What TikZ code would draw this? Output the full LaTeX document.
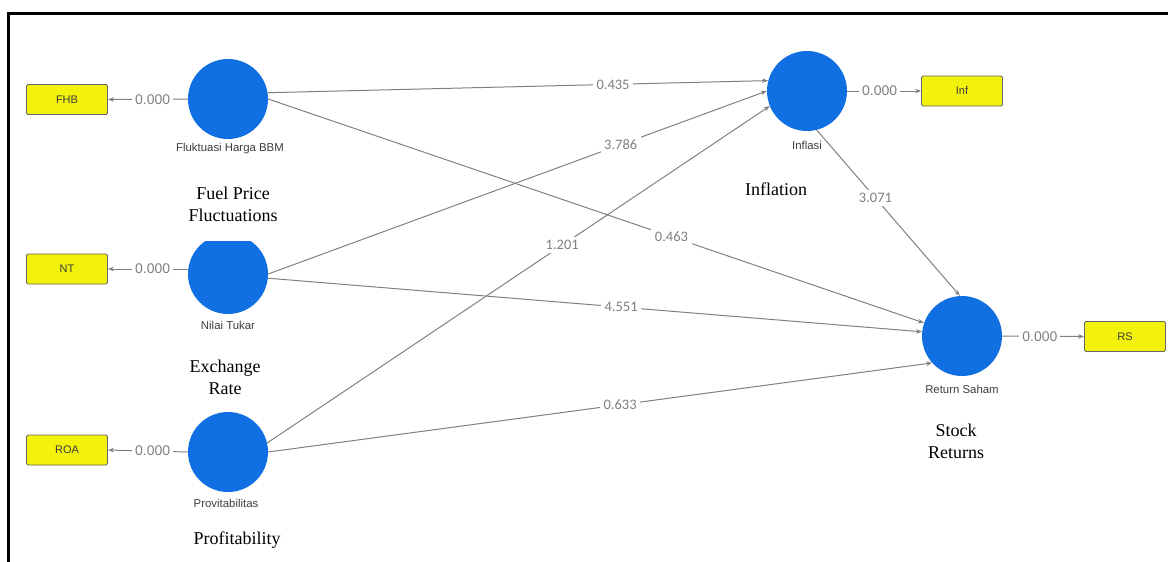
\documentclass[tikz,border=0pt]{standalone}
\usepackage{fontspec}
\setmainfont{Liberation Serif}
\newfontfamily\arialf{Liberation Sans}
\newfontfamily\calib{Carlito}
\usetikzlibrary{arrows.meta}
\definecolor{cblue}{RGB}{17,112,225}
\definecolor{cyel}{RGB}{242,242,12}
\definecolor{lgray}{RGB}{128,128,128}
\definecolor{tgray}{RGB}{60,60,60}
\begin{document}
\begin{tikzpicture}[x=1pt,y=-1pt,
 lv/.style={circle,fill=cblue,minimum size=80pt,inner sep=0pt},
 ind/.style={rectangle,rounded corners=1.5pt,draw=black!60,line width=0.8pt,fill=cyel,minimum width=81pt,minimum height=30pt,inner sep=0pt,font=\arialf\fontsize{11}{13}\selectfont,text=tgray},
 lvcap/.style={font=\arialf\fontsize{11.4}{13}\selectfont,text=tgray,inner sep=0pt},
 eng/.style={font=\fontsize{18}{22}\selectfont,align=center,inner sep=0pt},
 conn/.style={draw=lgray,line width=1pt,-{Stealth[length=6pt,width=4.5pt]}},
 wt/.style={fill=white,text=lgray,font=\calib\fontsize{14.5}{16}\selectfont,inner sep=3.5pt},
 mw/.style={fill=white,text=lgray,font=\arialf\fontsize{14}{16}\selectfont,inner sep=3pt}
]
\useasboundingbox (0,0) rectangle (1168,562);
\draw[line width=2.5pt,line join=miter] (8.5,562) -- (8.5,13.5) -- (1168,13.5);

% latent variables
\node[lv] (fhb) at (228,99) {};
\begin{scope}
\clip (0,241) rectangle (1168,562);
\node[lv] (nt) at (228,274) {};
\end{scope}
\node[lv] (pv) at (228,452) {};
\node[lv] (inf) at (807,91) {};
\node[lv] (rs) at (962,336) {};

% indicators
\node[ind] (FHB) at (67,99.5) {FHB};
\node[ind] (NT) at (67,269) {NT};
\node[ind] (ROA) at (67,450) {ROA};
\node[ind] (INF) at (962,91) {Inf};
\node[ind] (RS) at (1125,336.5) {RS};

% captions
\node[lvcap] (cfhb) at (230,149) {Fluktuasi Harga BBM};
\node[lvcap] (cnt) at (228,325) {Nilai Tukar};
\node[lvcap] (cpv) at (226,503) {Provitabilitas};
\node[lvcap] (cinf) at (807,145) {Inflasi};
\node[lvcap] (crs) at (962,389) {Return Saham};

% english labels
\node[eng] (efhb) at (233,204) {Fuel Price\\Fluctuations};
\node[eng] (ent) at (225,377) {Exchange\\Rate};
\node[eng] (epv) at (237,540) {Profitability};
\node[eng] (einf) at (776,189) {Inflation};
\node[eng] (ers) at (956,441) {Stock\\Returns};

% measurement
\draw[conn] (fhb.west) -- node[mw,pos=0.44]{0.000} (FHB.east);
\draw[conn] (nt.west|-NT.east) -- node[mw,pos=0.44]{0.000} (NT.east);
\draw[conn] (pv.west) -- node[mw,pos=0.44]{0.000} (ROA.east);
\draw[conn] (inf.east) -- node[mw,pos=0.44]{0.000} (INF.west);
\draw[conn] (rs.east) -- node[mw,pos=0.46]{0.000} (RS.west);

% structural
\draw[conn] (fhb.9) -- node[wt,pos=0.69]{0.435} (inf.165);
\draw[conn] (fhb.0) -- node[wt,pos=0.615]{0.463} (rs.161);
\draw[conn] (nt.0) -- node[wt,pos=0.707]{3.786} (inf.180);
\draw[conn] (nt.-6) -- node[wt,pos=0.54]{4.551} (rs.174);
\draw[conn] (pv.13) -- node[wt,pos=0.587]{1.201} (inf.202);
\draw[conn] (pv.0) -- node[wt,pos=0.53]{0.633} (rs.222);
\draw[conn] (inf.284) -- node[wt,pos=0.41]{3.071} (rs.93);
\end{tikzpicture}
\end{document}
